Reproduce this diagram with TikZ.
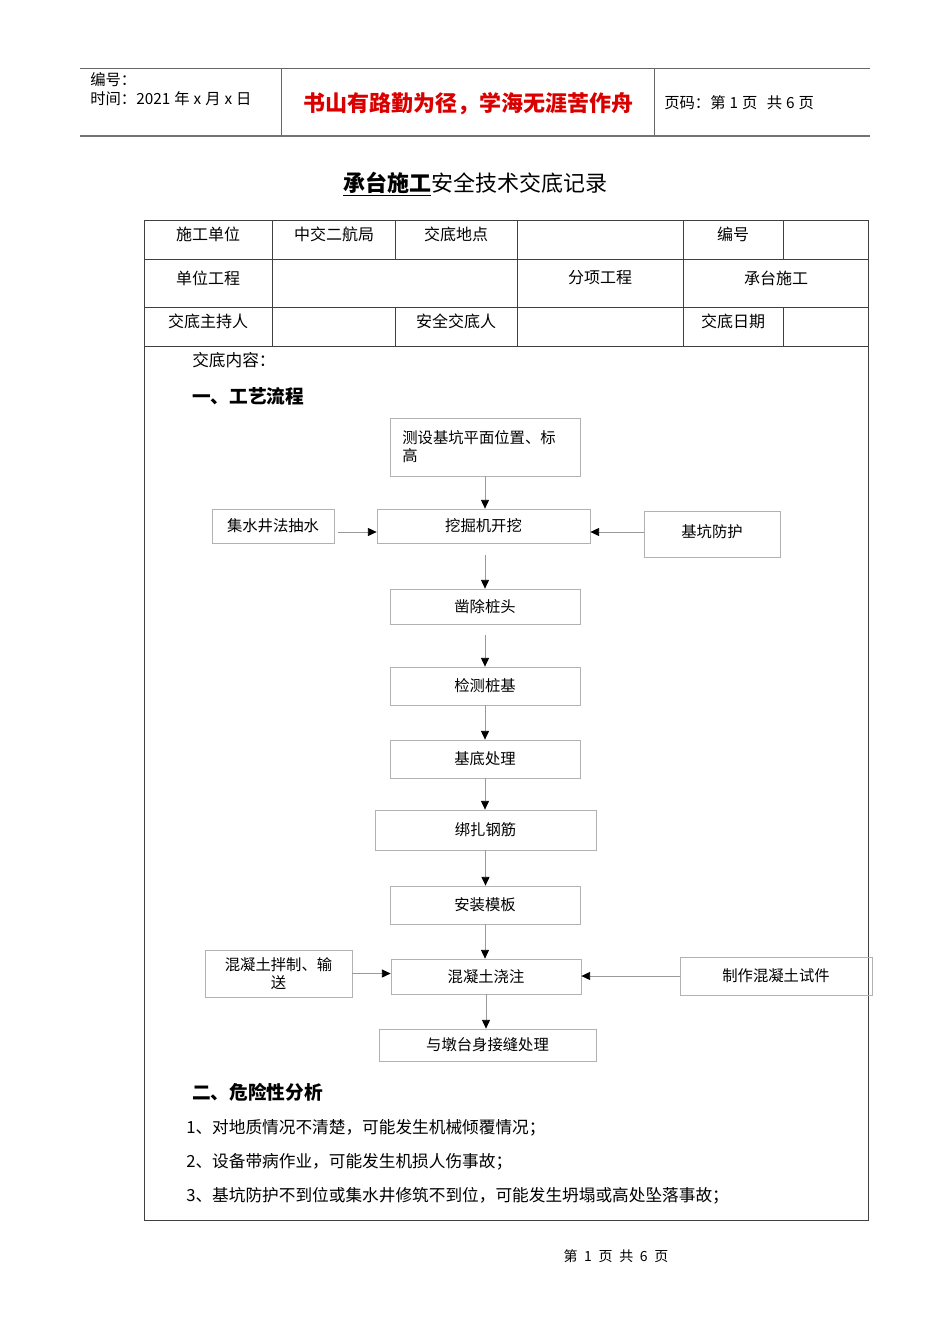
\documentclass[tikz,border=0pt]{standalone}
\usepackage{fontspec}
\setmainfont{Noto Sans CJK SC}
\usetikzlibrary{arrows.meta}

\begin{document}
\begin{tikzpicture}[x=0.75pt, y=-0.75pt,
    every node/.style={inner sep=0pt},
    cell/.style={font=\fontsize{12}{14}\selectfont},
    body/.style={anchor=west, font=\fontsize{12.5}{15}\selectfont},
    head/.style={anchor=west, font=\fontsize{11.5}{13}\selectfont},
    flowbox/.style={draw=black!30, line width=0.6pt, inner sep=2pt, align=center, font=\fontsize{11.5}{13.5}\selectfont},
    flowarrow/.style={draw=black!40, line width=0.6pt, -{Triangle[length=6.5pt, width=6pt, color=black]}},
    rule/.style={draw=black!75, line width=0.7pt}]
    \useasboundingbox (0,0) rectangle (950,1344);

    % Header band
    \draw[draw=black!60, line width=0.6pt] (80,68) -- (870,68);
    \draw[draw=black!55, line width=1.5pt] (80,136) -- (870,136);
    \draw[draw=black!60, line width=0.6pt] (281,68) -- (281,136);
    \draw[draw=black!60, line width=0.6pt] (654,68) -- (654,136);
    \node[head] (hdno) at (90,80) {编号：};
    \node[head] (hddate) at (90,99) {时间：2021\hspace{3pt}年\hspace{3pt}x\hspace{3pt}月\hspace{3pt}x\hspace{3pt}日};
    \node[font=\fontsize{16.5}{18}\selectfont\bfseries, text=red!85!black] (motto) at (468,104) {书山有路勤为径，学海无涯苦作舟};
    \node[head] (hdpage) at (664,103) {页码：第\hspace{3pt}1\hspace{3pt}页\hspace{7pt}共\hspace{3pt}6\hspace{3pt}页};

    % Title
    \node[font=\fontsize{16.5}{18}\selectfont] (title) at (475,184) {\underline{\bfseries 承台施工}安全技术交底记录};

    % Table frame
    \draw[rule] (144,220) rectangle (868,1220);
    \draw[rule] (144,259) -- (868,259);
    \draw[rule] (144,307) -- (868,307);
    \draw[rule] (144,346) -- (868,346);
    \draw[rule] (272,220) -- (272,346);
    \draw[rule] (517,220) -- (517,346);
    \draw[rule] (683,220) -- (683,346);
    \draw[rule] (395,220) -- (395,259);
    \draw[rule] (395,307) -- (395,346);
    \draw[rule] (783,220) -- (783,259);
    \draw[rule] (783,307) -- (783,346);

    % Table cells
    \node[cell] (unit) at (208,234) {施工单位};
    \node[cell] (unitval) at (334,234) {中交二航局};
    \node[cell] (place) at (456,234) {交底地点};
    \node[cell] (serial) at (733,234) {编号};
    \node[cell] (proj) at (208,278) {单位工程};
    \node[cell] (item) at (600,278) {分项工程};
    \node[cell] (itemval) at (776,278) {承台施工};
    \node[cell] (host) at (208,321) {交底主持人};
    \node[cell] (safety) at (456,321) {安全交底人};
    \node[cell] (date) at (733,321) {交底日期};

    % Content headings
    \node[body] (content) at (192,360) {交底内容：};
    \node[anchor=west, font=\fontsize{14}{16}\selectfont\bfseries] (sec1) at (192,396) {一、工艺流程};

    % Flow chart boxes
    \node[flowbox, minimum width=142.5pt, minimum height=43.5pt, align=left, text width=124pt] (survey) at (485,447) {\raisebox{2pt}{测设基坑平面位置、标}\\\raisebox{2pt}{高}};
    \node[flowbox, minimum width=159.75pt, minimum height=25.5pt] (dig) at (483.5,526) {挖掘机开挖};
    \node[flowbox, minimum width=91.5pt, minimum height=25.5pt] (pump) at (273,526) {集水井法抽水};
    \node[flowbox, minimum width=102pt, minimum height=34.5pt] (guard) at (712,534) {\raisebox{5pt}{基坑防护}};
    \node[flowbox, minimum width=142.5pt, minimum height=26.25pt] (pilehead) at (485,606.5) {凿除桩头};
    \node[flowbox, minimum width=142.5pt, minimum height=28.5pt] (piletest) at (485,686) {检测桩基};
    \node[flowbox, minimum width=142.5pt, minimum height=28.5pt] (base) at (485,759) {基底处理};
    \node[flowbox, minimum width=165.75pt, minimum height=30pt] (rebar) at (485.5,830) {绑扎钢筋};
    \node[flowbox, minimum width=142.5pt, minimum height=28.5pt] (form) at (485,905) {安装模板};
    \node[flowbox, minimum width=142.5pt, minimum height=26.25pt] (pour) at (486,976.5) {混凝土浇注};
    \node[flowbox, minimum width=110.25pt, minimum height=35.25pt] (mix) at (278.5,973.5) {混凝土拌制、输\\送};
    \node[flowbox, minimum width=144pt, minimum height=28.5pt] (sample) at (776,976) {制作混凝土试件};
    \node[flowbox, minimum width=162.75pt, minimum height=24pt] (joint) at (487.5,1045) {与墩台身接缝处理};

    % Flow chart arrows
    \draw[flowarrow] (survey.south) -- (survey.south |- dig.north);
    \draw[flowarrow, shorten <=3pt] ([yshift=-4.5pt]pump.east) -- ([yshift=-4.5pt]dig.west);
    \draw[flowarrow] ([yshift=1.5pt]guard.west) -- ([yshift=-4.5pt]dig.east);
    \draw[flowarrow, shorten <=9pt] (dig.south -| survey.south) -- (survey.south |- pilehead.north);
    \draw[flowarrow, shorten <=8pt] (pilehead.south) -- (pilehead.south |- piletest.north);
    \draw[flowarrow] (piletest.south) -- (piletest.south |- base.north);
    \draw[flowarrow] (base.south) -- (base.south |- rebar.north);
    \draw[flowarrow] (rebar.south) -- (rebar.south |- form.north);
    \draw[flowarrow] (form.south) -- (form.south |- pour.north);
    \draw[flowarrow] (mix.east) -- (mix.east -| pour.west);
    \draw[flowarrow] (sample.west) -- (sample.west -| pour.east);
    \draw[flowarrow] (pour.south) -- (pour.south |- joint.north);

    % Hazard analysis
    \node[anchor=west, font=\fontsize{14}{16}\selectfont\bfseries] (sec2) at (192,1092) {二、危险性分析};
    \node[body] (risk1) at (186,1128) {1、对地质情况不清楚，可能发生机械倾覆情况；};
    \node[body] (risk2) at (186,1162) {2、设备带病作业，可能发生机损人伤事故；};
    \node[body] (risk3) at (186,1196) {3、基坑防护不到位或集水井修筑不到位，可能发生坍塌或高处坠落事故；};

    % Footer
    \node[font=\fontsize{10.5}{12}\selectfont] (footer) at (616,1256) {第\hspace{5pt}1\hspace{5pt}页\hspace{5pt}共\hspace{5pt}6\hspace{5pt}页};
\end{tikzpicture}
\end{document}
